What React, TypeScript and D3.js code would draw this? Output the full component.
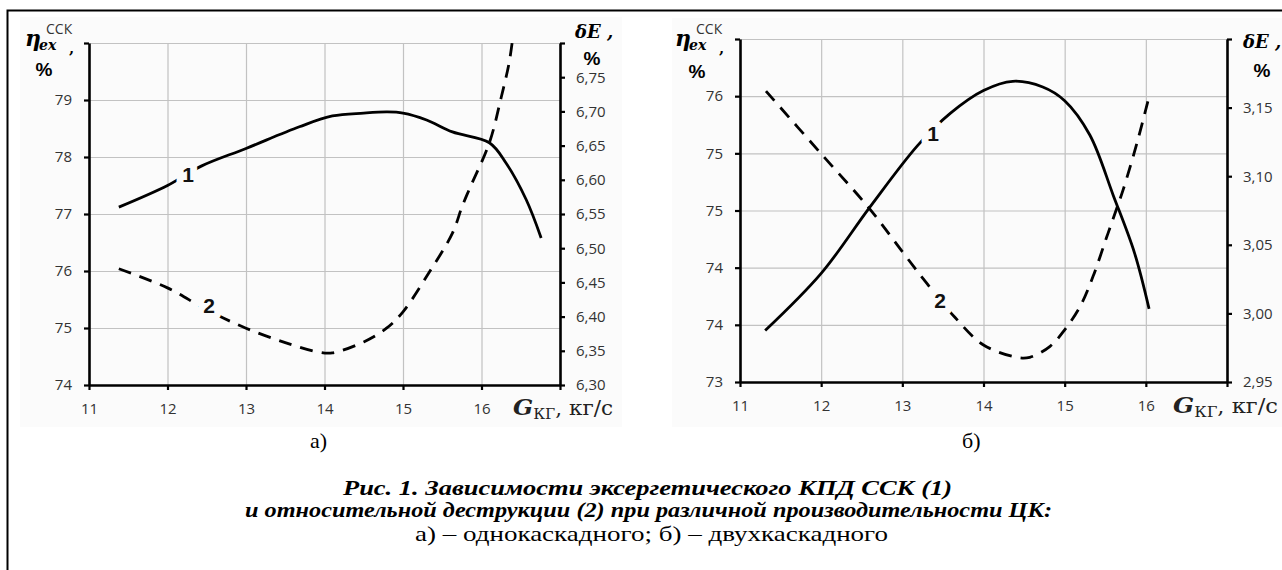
import { useEffect, useRef } from 'react'
import * as d3 from 'd3'

// x axis, shared: G_КГ, кг/с
const gTicks = [11, 12, 13, 14, 15, 16, 17]
const gLabels = ['11', '12', '13', '14', '15', '16', '']

// а) однокаскадный
const aEtaTicks = [74, 75, 76, 77, 78, 79, 80]
const aEtaLabels = ['74', '75', '76', '77', '78', '79', '']
const aDeTicks = [6.3, 6.35, 6.4, 6.45, 6.5, 6.55, 6.6, 6.65, 6.7, 6.75, 6.8]
const aDeLabels = ['6,30', '6,35', '6,40', '6,45', '6,50', '6,55', '6,60', '6,65', '6,70', '6,75', '']
const aG1 = [11.38, 12.0, 12.43, 13.0, 13.68, 14.1, 14.5, 14.8, 15.0, 15.3, 15.63, 16.1, 16.31, 16.57, 16.76]
const aEta = [77.12, 77.5, 77.84, 78.15, 78.53, 78.72, 78.77, 78.79, 78.77, 78.65, 78.44, 78.25, 77.9, 77.25, 76.58]
const aG2 = [11.38, 12.0, 12.5, 13.0, 13.5, 13.93, 14.1, 14.5, 14.79, 15.0, 15.33, 15.63, 15.75, 15.84, 16.1, 16.25, 16.35, 16.39]
const aDe = [6.47, 6.442, 6.41, 6.383, 6.362, 6.348, 6.347, 6.363, 6.383, 6.407, 6.464, 6.522, 6.56, 6.585, 6.654, 6.72, 6.77, 6.8]

// б) двухкаскадный
const bEtaTicks = [73, 73.5, 74, 74.5, 75, 75.5, 76]
const bEtaLabels = ['73', '74', '74', '75', '75', '76', '']
const bDeTicks = [2.95, 3.0, 3.05, 3.1, 3.15, 3.2]
const bDeLabels = ['2,95', '3,00', '3,05', '3,10', '3,15', '']
const bG1 = [11.31, 12.0, 12.6, 13.19, 13.59, 14.0, 14.36, 14.73, 15.0, 15.31, 15.6, 15.86, 16.04]
const bEta = [73.45, 73.95, 74.53, 75.07, 75.35, 75.55, 75.63, 75.58, 75.46, 75.16, 74.63, 74.13, 73.64]
const bG2 = [11.32, 11.99, 12.6, 13.0, 13.3, 13.65, 14.0, 14.41, 14.57, 14.82, 15.0, 15.19, 15.35, 15.52, 15.65, 15.72, 15.89, 16.04]
const bDe = [3.162, 3.117, 3.076, 3.045, 3.022, 2.997, 2.977, 2.968, 2.968, 2.976, 2.988, 3.005, 3.027, 3.056, 3.078, 3.09, 3.124, 3.158]

const captionLines = [
  'Рис. 1. Зависимости эксергетического КПД ССК (1)',
  'и относительной деструкции (2) при различной производительности ЦК:',
  'а) – однокаскадного; б) – двухкаскадного',
]

const panels = [
  {
    x0: 89, x1: 560, y0: 43, y1: 385, bg: [20, 17, 602, 410],
    etaTicks: aEtaTicks, etaLabels: aEtaLabels, deTicks: aDeTicks, deLabels: aDeLabels,
    g1: aG1, eta: aEta, g2: aG2, de: aDe,
    lab1: [188, 182], lab2: [209, 313],
    eta0: [25, 46], etaPct: [44, 76], de0: [575, 38], dePct: [592, 65],
    gLab: [513, 415, 100], sub: 'а)', subX: 310,
  },
  {
    x0: 740, x1: 1227, y0: 39, y1: 382, bg: [672, 18, 610, 409],
    etaTicks: bEtaTicks, etaLabels: bEtaLabels, deTicks: bDeTicks, deLabels: bDeLabels,
    g1: bG1, eta: bEta, g2: bG2, de: bDe,
    lab1: [933, 141], lab2: [940, 308],
    eta0: [675, 46], etaPct: [697, 78], de0: [1243, 48], dePct: [1262, 77],
    gLab: [1173, 413, 105], sub: 'б)', subX: 962,
  },
]

const TICK_FONT = '"Open Sans", "Noto Sans", sans-serif'
const SERIF = '"DejaVu Serif", serif'

function drawPanel(svg, p) {
  const g = svg.append('g')
  const x = d3.scaleLinear().domain([gTicks[0], gTicks[gTicks.length - 1]]).range([p.x0, p.x1])
  const yL = d3.scaleLinear().domain([p.etaTicks[0], p.etaTicks[p.etaTicks.length - 1]]).range([p.y1, p.y0])
  const yR = d3.scaleLinear().domain([p.deTicks[0], p.deTicks[p.deTicks.length - 1]]).range([p.y1, p.y0])

  g.append('rect').attr('x', p.bg[0]).attr('y', p.bg[1]).attr('width', p.bg[2]).attr('height', p.bg[3]).attr('fill', '#fbfbfb')

  // grid
  g.append('g').attr('transform', `translate(${p.x0},0)`)
    .call(d3.axisLeft(yL).tickValues(p.etaTicks.slice(1)).tickSize(-(p.x1 - p.x0)).tickFormat(() => ''))
    .call(gg => { gg.select('.domain').remove(); gg.selectAll('.tick line').attr('stroke', '#c2c2c2').attr('stroke-width', 1.2) })
  g.append('g').attr('transform', `translate(0,${p.y0})`)
    .call(d3.axisTop(x).tickValues(gTicks.slice(1, -1)).tickSize(-(p.y1 - p.y0)).tickFormat(() => ''))
    .call(gg => { gg.select('.domain').remove(); gg.selectAll('.tick line').attr('stroke', '#c2c2c2').attr('stroke-width', 1.2) })

  const styleAxis = gg => {
    gg.select('.domain').attr('stroke', '#000').attr('stroke-width', 2.6)
    gg.selectAll('.tick line').attr('stroke', '#000').attr('stroke-width', 2.2)
    gg.selectAll('.tick text').attr('fill', '#333').attr('font-size', '15px').attr('font-family', TICK_FONT)
  }
  g.append('g').attr('transform', `translate(${p.x0},0)`)
    .call(d3.axisLeft(yL).tickValues(p.etaTicks).tickSize(5).tickSizeOuter(0).tickPadding(12).tickFormat((d, i) => p.etaLabels[i]))
    .call(styleAxis)
  g.append('g').attr('transform', `translate(${p.x1},0)`)
    .call(d3.axisRight(yR).tickValues(p.deTicks).tickSize(5).tickSizeOuter(0).tickPadding(11).tickFormat((d, i) => p.deLabels[i]))
    .call(styleAxis)
  g.append('g').attr('transform', `translate(0,${p.y1})`)
    .call(d3.axisBottom(x).tickValues(gTicks).tickSize(5).tickSizeOuter(0).tickPadding(13).tickFormat((d, i) => gLabels[i]))
    .call(styleAxis)

  // curves
  const l1 = d3.line().x(d => x(d[0])).y(d => yL(d[1])).curve(d3.curveCatmullRom.alpha(0.5))
  const l2 = d3.line().x(d => x(d[0])).y(d => yR(d[1])).curve(d3.curveCatmullRom.alpha(0.5))
  g.append('path').attr('d', l1(d3.zip(p.g1, p.eta))).attr('fill', 'none').attr('stroke', '#000').attr('stroke-width', 2.8)
  g.append('path').attr('d', l2(d3.zip(p.g2, p.de))).attr('fill', 'none').attr('stroke', '#000').attr('stroke-width', 2.8)
    .attr('stroke-dasharray', '13,9')

  // curve numbers
  ;[['1', p.lab1], ['2', p.lab2]].forEach(([s, pos]) => {
    g.append('text').attr('x', pos[0]).attr('y', pos[1]).attr('text-anchor', 'middle')
      .attr('font-family', '"Liberation Sans", Arial, sans-serif').attr('font-weight', 700).attr('font-size', 21)
      .attr('fill', '#111').attr('stroke', '#fbfbfb').attr('stroke-width', 14).attr('paint-order', 'stroke')
      .attr('stroke-linejoin', 'round').text(s)
  })

  // axis titles
  const [ex, ey] = p.eta0
  g.append('text').attr('x', ex).attr('y', ey).attr('font-family', SERIF).attr('font-style', 'italic')
    .attr('font-weight', 700).attr('font-size', 22).text('η')
  g.append('text').attr('x', ex + 14).attr('y', ey + 4).attr('font-family', SERIF).attr('font-style', 'italic')
    .attr('font-weight', 700).attr('font-size', 14).text('ex')
  g.append('text').attr('x', ex + 21).attr('y', ey - 12).attr('font-family', TICK_FONT)
    .attr('font-size', 14).attr('fill', '#333').text('ССК')
  g.append('text').attr('x', ex + 44).attr('y', ey + 7).attr('font-family', SERIF)
    .attr('font-weight', 700).attr('font-size', 15).text(',')
  g.append('text').attr('x', p.etaPct[0]).attr('y', p.etaPct[1]).attr('text-anchor', 'middle')
    .attr('font-family', '"Liberation Sans", sans-serif').attr('font-weight', 700).attr('font-size', 19).text('%')
  g.append('text').attr('x', p.de0[0]).attr('y', p.de0[1]).attr('font-family', SERIF).attr('font-style', 'italic')
    .attr('font-weight', 700).attr('font-size', 18).text('δE ,')
  g.append('text').attr('x', p.dePct[0]).attr('y', p.dePct[1]).attr('text-anchor', 'middle')
    .attr('font-family', '"Liberation Sans", sans-serif').attr('font-weight', 700).attr('font-size', 19).text('%')

  const gl = g.append('text').attr('x', p.gLab[0]).attr('y', p.gLab[1]).attr('font-family', SERIF)
    .attr('textLength', p.gLab[2]).attr('lengthAdjust', 'spacingAndGlyphs').attr('fill', '#222')
  gl.append('tspan').attr('font-style', 'italic').attr('font-weight', 700).attr('font-size', 23).text('G')
  gl.append('tspan').attr('font-size', 15).attr('dy', 4).text('КГ')
  gl.append('tspan').attr('font-size', 21).attr('dy', -4).text(', кг/с')

  svg.append('text').attr('x', p.subX).attr('y', 448).attr('font-family', '"Liberation Serif", serif')
    .attr('font-size', 22).text(p.sub)
}

export default function App() {
  const svgRef = useRef(null)
  const W = 1282, H = 570

  useEffect(() => {
    const svg = d3.select(svgRef.current)
    svg.selectAll('*').remove()

    // frame
    svg.append('path').attr('d', `M7.5,${H} V10.5 H${W}`).attr('fill', 'none').attr('stroke', '#000').attr('stroke-width', 2)

    panels.forEach(p => drawPanel(svg, p))

    // caption
    const cap = [
      { x: 343, y: 495, len: 609, bold: true },
      { x: 245, y: 517, len: 807, bold: true },
      { x: 415, y: 541, len: 473, bold: false },
    ]
    cap.forEach((c, i) => {
      svg.append('text').attr('x', c.x).attr('y', c.y).attr('font-family', '"Liberation Serif", serif')
        .attr('font-size', c.bold ? 20 : 22).attr('font-weight', c.bold ? 700 : 400)
        .attr('font-style', c.bold ? 'italic' : 'normal')
        .attr('textLength', c.len).attr('lengthAdjust', 'spacingAndGlyphs').text(captionLines[i])
    })
  }, [])

  return (
    <svg ref={svgRef} width={W} height={H} style={{ position: 'absolute', left: 0, top: 0, background: '#fff' }} />
  )
}
